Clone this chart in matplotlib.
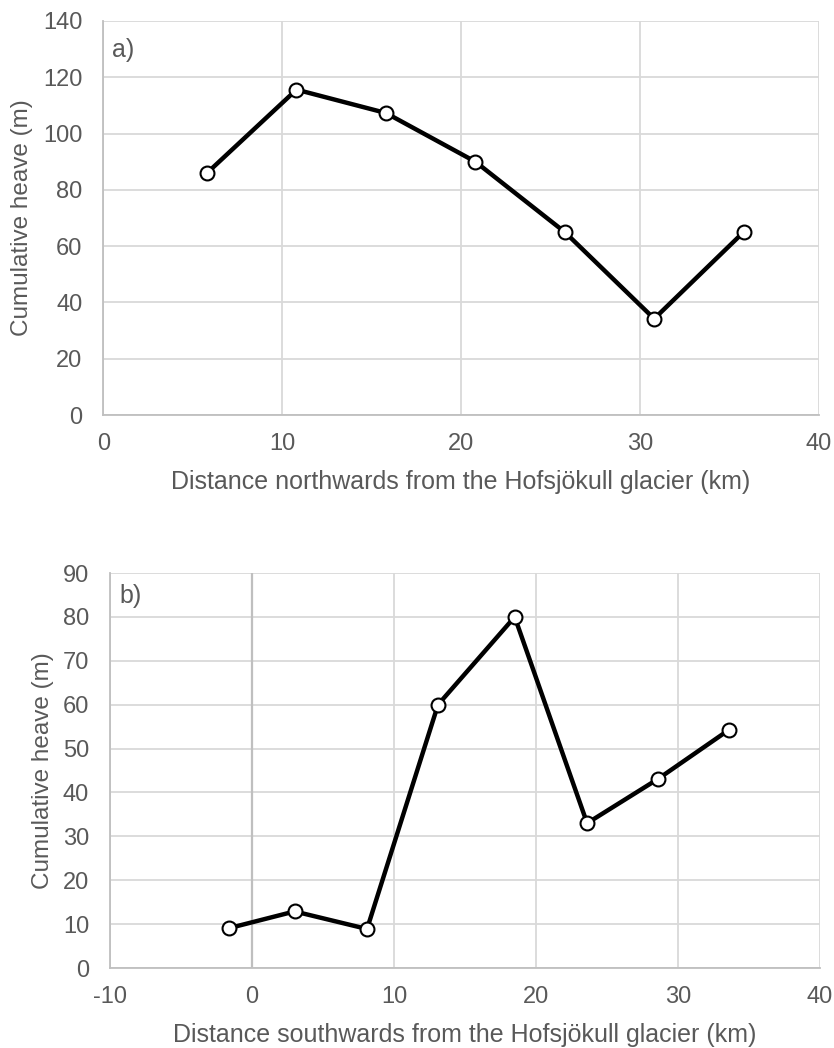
import matplotlib.pyplot as plt

plt.rcParams['font.family'] = ['Liberation Sans', 'DejaVu Sans']
plt.rcParams['axes.unicode_minus'] = False

# panel a: northwards
north_km = [5.8, 10.8, 15.8, 20.8, 25.8, 30.8, 35.8]
north_heave = [86, 115.6, 107.3, 90, 65, 34.2, 65]

# panel b: southwards
south_km = [-1.6, 3.0, 8.1, 13.1, 18.5, 23.6, 28.6, 33.6]
south_heave = [9.1, 12.9, 8.9, 60, 80, 33, 43.1, 54.3]

text_col = '#595959'
grid_col = '#d9d9d9'
axis_col = '#bfbfbf'

fig = plt.figure(figsize=(8.34, 10.48), dpi=100)
ax_a = fig.add_axes([0.1239, 0.604, 0.8578, 0.376])
ax_b = fig.add_axes([0.1319, 0.0763, 0.8513, 0.3769])


def style(ax, xlim, xticks, ylim, yticks, xlabel, tag, ylab_x, tag_xy):
    ax.set_xlim(xlim)
    ax.set_ylim(ylim)
    ax.set_xticks(xticks)
    ax.set_yticks(yticks)
    ax.grid(True, color=grid_col, linewidth=1.3)
    ax.set_axisbelow(True)
    for s in ['top', 'right']:
        ax.spines[s].set_visible(False)
    for s in ['left', 'bottom']:
        ax.spines[s].set_color(axis_col)
        ax.spines[s].set_linewidth(1.3)
    ax.tick_params(length=0, labelsize=17, labelcolor=text_col)
    ax.tick_params(axis='x', pad=13)
    ax.tick_params(axis='y', pad=15)
    ax.set_xlabel(xlabel, fontsize=18, color=text_col, va='top')
    ax.xaxis.set_label_coords(0.5, -0.14)
    ax.set_ylabel('Cumulative heave (m)', fontsize=17.5, color=text_col,
                  va='center')
    ax.yaxis.set_label_coords(ylab_x, 0.5)
    ax.text(tag_xy[0], tag_xy[1], tag, transform=ax.transAxes, fontsize=18,
            color=text_col, va='top', ha='left')


def draw(ax, x, y):
    ax.plot(x, y, color='black', linewidth=3.2, marker='o', markersize=10,
            markerfacecolor='white', markeredgecolor='black',
            markeredgewidth=1.5, zorder=3, clip_on=False)


draw(ax_a, north_km, north_heave)
style(ax_a, (0, 40), range(0, 41, 10), (0, 140), range(0, 141, 20),
      'Distance northwards from the Hofsjökull glacier (km)', 'a)',
      -0.1136, (0.0126, 0.958))

draw(ax_b, south_km, south_heave)
style(ax_b, (-10, 40), range(-10, 41, 10), (0, 90), range(0, 91, 10),
      'Distance southwards from the Hofsjökull glacier (km)', 'b)',
      -0.0944, (0.014, 0.972))
ax_b.axvline(0, color=axis_col, linewidth=1.6, zorder=1)

fig.savefig('out.png', dpi=100)
